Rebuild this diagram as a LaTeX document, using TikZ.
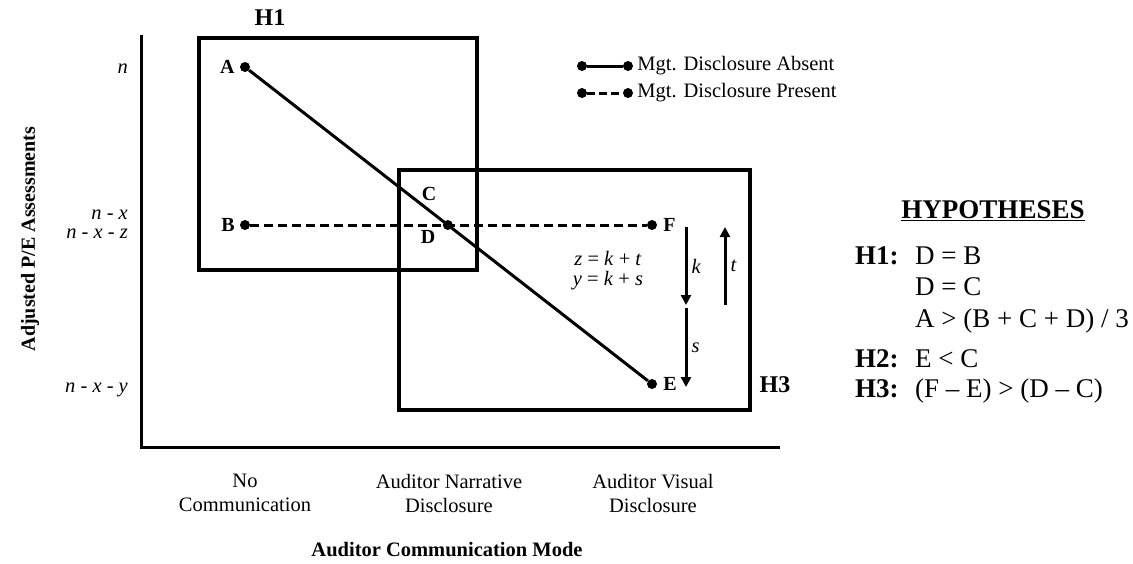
\documentclass[tikz,border=0pt]{standalone}
\usepackage{fontspec}
\setmainfont{Liberation Serif}
\usetikzlibrary{positioning, arrows.meta, intersections}

\begin{document}
\begin{tikzpicture}[x=1pt, y=-1pt,
    hbox/.style={draw, line width=4pt, inner sep=0pt},
    axis/.style={line width=3pt},
    absentln/.style={line width=3pt},
    presentln/.style={line width=3pt, dash pattern=on 9pt off 5pt},
    dot/.style={circle, fill=black, inner sep=0pt, minimum size=10pt},
    ptlbl/.style={font=\fontsize{20}{24}\selectfont\bfseries, inner sep=0pt},
    ticklbl/.style={font=\fontsize{20.5}{24}\selectfont\itshape, anchor=base east, inner sep=0pt},
    catlbl/.style={font=\fontsize{20.5}{24}\selectfont, align=center, inner sep=0pt},
    ttl/.style={font=\fontsize{20.5}{24}\selectfont\bfseries, inner sep=0pt},
    hlbl/.style={font=\fontsize{24}{28}\selectfont\bfseries, inner sep=0pt},
    eqn/.style={font=\fontsize{20.5}{24}\selectfont, inner sep=0pt},
    leg/.style={font=\fontsize{20.5}{24}\selectfont, anchor=west, inner sep=0pt},
    arr/.style={-{Triangle[length=10pt, width=10pt]}, line width=3pt},
    hyp/.style={font=\fontsize{27}{32}\selectfont, anchor=base west, inner sep=0pt},
    hyph/.style={hyp, font=\fontsize{27}{32}\selectfont\bfseries}
  ]
  \useasboundingbox (0,0) rectangle (1133,563);

  % Axes
  \coordinate (ytop) at (141,35);
  \coordinate (orig) at (141,447);
  \coordinate (xend) at (780,447);
  \draw[axis] (ytop) -- (orig) -- (xend);
  \node[ttl, font=\fontsize{20}{24}\selectfont\bfseries, rotate=90] (ytitle) at (30,239) {Adjusted P/E Assessments};
  \node[ttl] (xtitle) at (447,550) {Auditor Communication Mode};

  % Tick labels
  \node[ticklbl] (tn)   at (128,73)  {n};
  \node[ticklbl] (tnx)  at (128,219) {n - x};
  \node[ticklbl] (tnxz) at (128,238) {n - x - z};
  \node[ticklbl] (tnxy) at (128,392) {n - x - y};
  \node[catlbl] (nocom)  at (245,493) {No\\Communication};
  \node[catlbl] (narr)   at (449,493) {Auditor Narrative\\Disclosure};
  \node[catlbl] (visual) at (653,493) {Auditor Visual\\Disclosure};

  % Hypothesis boxes
  \node[hbox, minimum width=278, minimum height=232] (boxh1) at (338,154) {};
  \node[hbox, minimum width=351, minimum height=240] (boxh3) at (574.5,290) {};
  \node[hlbl] (h1) at (270,18) {H1};
  \node[hlbl] (h3) at (775,385) {H3};

  % Data points
  \node[dot] (A) at (245,67) {};
  \node[dot] (B) at (245,225) {};
  \node[dot] (F) at (652,225) {};
  \node[dot] (E) at (652,384) {};
  \path[name path=aeline] (A) -- (E);
  \path[name path=bfline] (B) -- (F);
  \path[name intersections={of=aeline and bfline, by=cross}];
  \node[dot] (D) at (cross) {};
  \draw[absentln] (A) -- (E);
  \draw[presentln] (B) -- (F);

  \node[ptlbl, left=5pt of A] (la) {A};
  \node[ptlbl, left=5pt of B] (lb) {B};
  \node[ptlbl] (lc) at (429,194) {C};
  \node[ptlbl] (ld) at (428,237) {D};
  \node[ptlbl, right=6pt of E] (le) {E};
  \node[ptlbl, right=6pt of F] (lf) {F};

  % Differences
  \coordinate (k1) at (686,227);
  \coordinate (k2) at (686,305);
  \coordinate (s1) at (686,308);
  \coordinate (s2) at (686,387);
  \coordinate (t1) at (725,305);
  \coordinate (t2) at (725,227);
  \draw[arr] (k1) -- node[eqn, right=4pt] {\textit{k}} (k2);
  \draw[arr] (s1) -- node[eqn, right=4pt] {\textit{s}} (s2);
  \draw[arr] (t1) -- node[eqn, right=4pt] {\textit{t}} (t2);
  \node[eqn] (zeq) at (608,258) {\textit{z} = \textit{k} + \textit{t}};
  \node[eqn] (yeq) at (608,281) {\textit{y} = \textit{k} + \textit{s}};

  % Legend
  \node[dot] (l1a) at (582,66) {};
  \node[dot] (l1b) at (628,66) {};
  \node[dot] (l2a) at (582,93) {};
  \node[dot] (l2b) at (628,93) {};
  \draw[absentln] (l1a) -- (l1b);
  \draw[line width=3pt, dash pattern=on 8pt off 4pt] (l2a) -- (l2b);
  \node[leg, right=4pt of l1b] (leg1) {Mgt. Disclosure Absent};
  \node[leg, right=4pt of l2b] (leg2) {Mgt. Disclosure Present};

  % Hypotheses
  \node[ttl, font=\fontsize{27}{32}\selectfont\bfseries] (hyps) at (993,211) {\underline{HYPOTHESES}};
  \node[hyph] (hh1) at (855,264) {H1:};
  \node[hyp]  (e1)  at (915,264) {D = B};
  \node[hyp]  (e2)  at (915,295) {D = C};
  \node[hyp]  (e3)  at (915,327) {A > (B + C + D) / 3};
  \node[hyph] (hh2) at (855,367) {H2:};
  \node[hyp]  (e4)  at (915,367) {E < C};
  \node[hyph] (hh3) at (855,397) {H3:};
  \node[hyp]  (e5)  at (915,397) {(F – E) > (D – C)};
\end{tikzpicture}
\end{document}
